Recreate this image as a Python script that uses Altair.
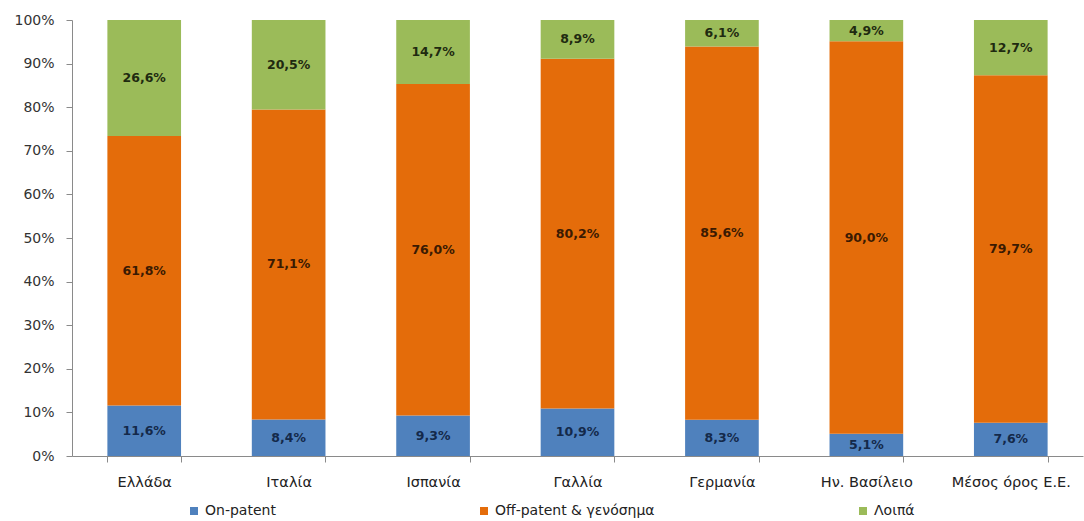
import altair as alt
import pandas as pd

# Market share by segment (%), per country
countries = ["Ελλάδα", "Ιταλία", "Ισπανία", "Γαλλία", "Γερμανία", "Ην. Βασίλειο", "Μέσος όρος Ε.Ε."]
series = ["On-patent", "Off-patent & γενόσημα", "Λοιπά"]
on_patent = [11.6, 8.4, 9.3, 10.9, 8.3, 5.1, 7.6]
off_patent = [61.8, 71.1, 76.0, 80.2, 85.6, 90.0, 79.7]
other = [26.6, 20.5, 14.7, 8.9, 6.1, 4.9, 12.7]
colors = ["#4F81BD", "#E46C0A", "#9BBB59"]
label_colors = ["#14294a", "#3a1a02", "#1f2a10"]

rows = []
for i, c in enumerate(countries):
    for k, (s, vals) in enumerate(zip(series, [on_patent, off_patent, other])):
        rows.append({"country": c, "series": s, "order": k, "value": vals[i]})
df = pd.DataFrame(rows)

FONT = "DejaVu Sans"

base = alt.Chart(df).transform_stack(
    stack="value", groupby=["country"], as_=["y0", "y1"],
    sort=[alt.SortField("order", order="ascending")]
).transform_calculate(
    mid="(datum.y0 + datum.y1) / 2",
    label="replace(format(datum.value, '.1f'), '.', ',') + '%'"
)

x_enc = alt.X(
    "country:N", sort=countries, title=None,
    scale=alt.Scale(paddingInner=0.49, paddingOuter=0.245),
    axis=alt.Axis(labelAngle=0, labelFont=FONT, labelFontSize=14.5, labelColor="#222222",
                  labelPadding=13, tickBand="extent", tickSize=6, tickColor="#8a8a8a",
                  domainColor="#8a8a8a", grid=False),
)

bars = base.mark_bar().encode(
    x=x_enc,
    y=alt.Y("y0:Q", title=None,
            scale=alt.Scale(domain=[0, 100], nice=False),
            axis=alt.Axis(values=list(range(0, 101, 10)), labelExpr="datum.value + '%'",
                          labelFont=FONT, labelFontSize=14, labelColor="#333333",
                          labelPadding=12, tickSize=6, tickColor="#8a8a8a",
                          domainColor="#8a8a8a", grid=False)),
    y2="y1:Q",
    color=alt.Color("series:N", sort=series,
                    scale=alt.Scale(domain=series, range=colors),
                    legend=alt.Legend(title=None, orient="none", legendX=115, legendY=484,
                                      direction="horizontal", columns=3, columnPadding=201,
                                      symbolType="square", symbolSize=64, symbolStrokeWidth=0,
                                      labelFont=FONT, labelFontSize=14, labelColor="#222222",
                                      labelOffset=4)),
)

labels = base.mark_text(font=FONT, fontSize=12.5, fontWeight="bold").encode(
    x=alt.X("country:N", sort=countries),
    y=alt.Y("mid:Q"),
    text="label:N",
    color=alt.Color("series:N", sort=series,
                    scale=alt.Scale(domain=series, range=label_colors), legend=None),
)

chart = alt.layer(bars, labels).resolve_scale(color="independent").properties(
    width=1011, height=436,
    padding={"left": 72, "top": 20, "right": 1, "bottom": 65},
    autosize=alt.AutoSizeParams(type="none"),
    background="white",
).configure_view(stroke=None)

chart.save("out.html", embed_options={"renderer": "svg", "actions": False})
